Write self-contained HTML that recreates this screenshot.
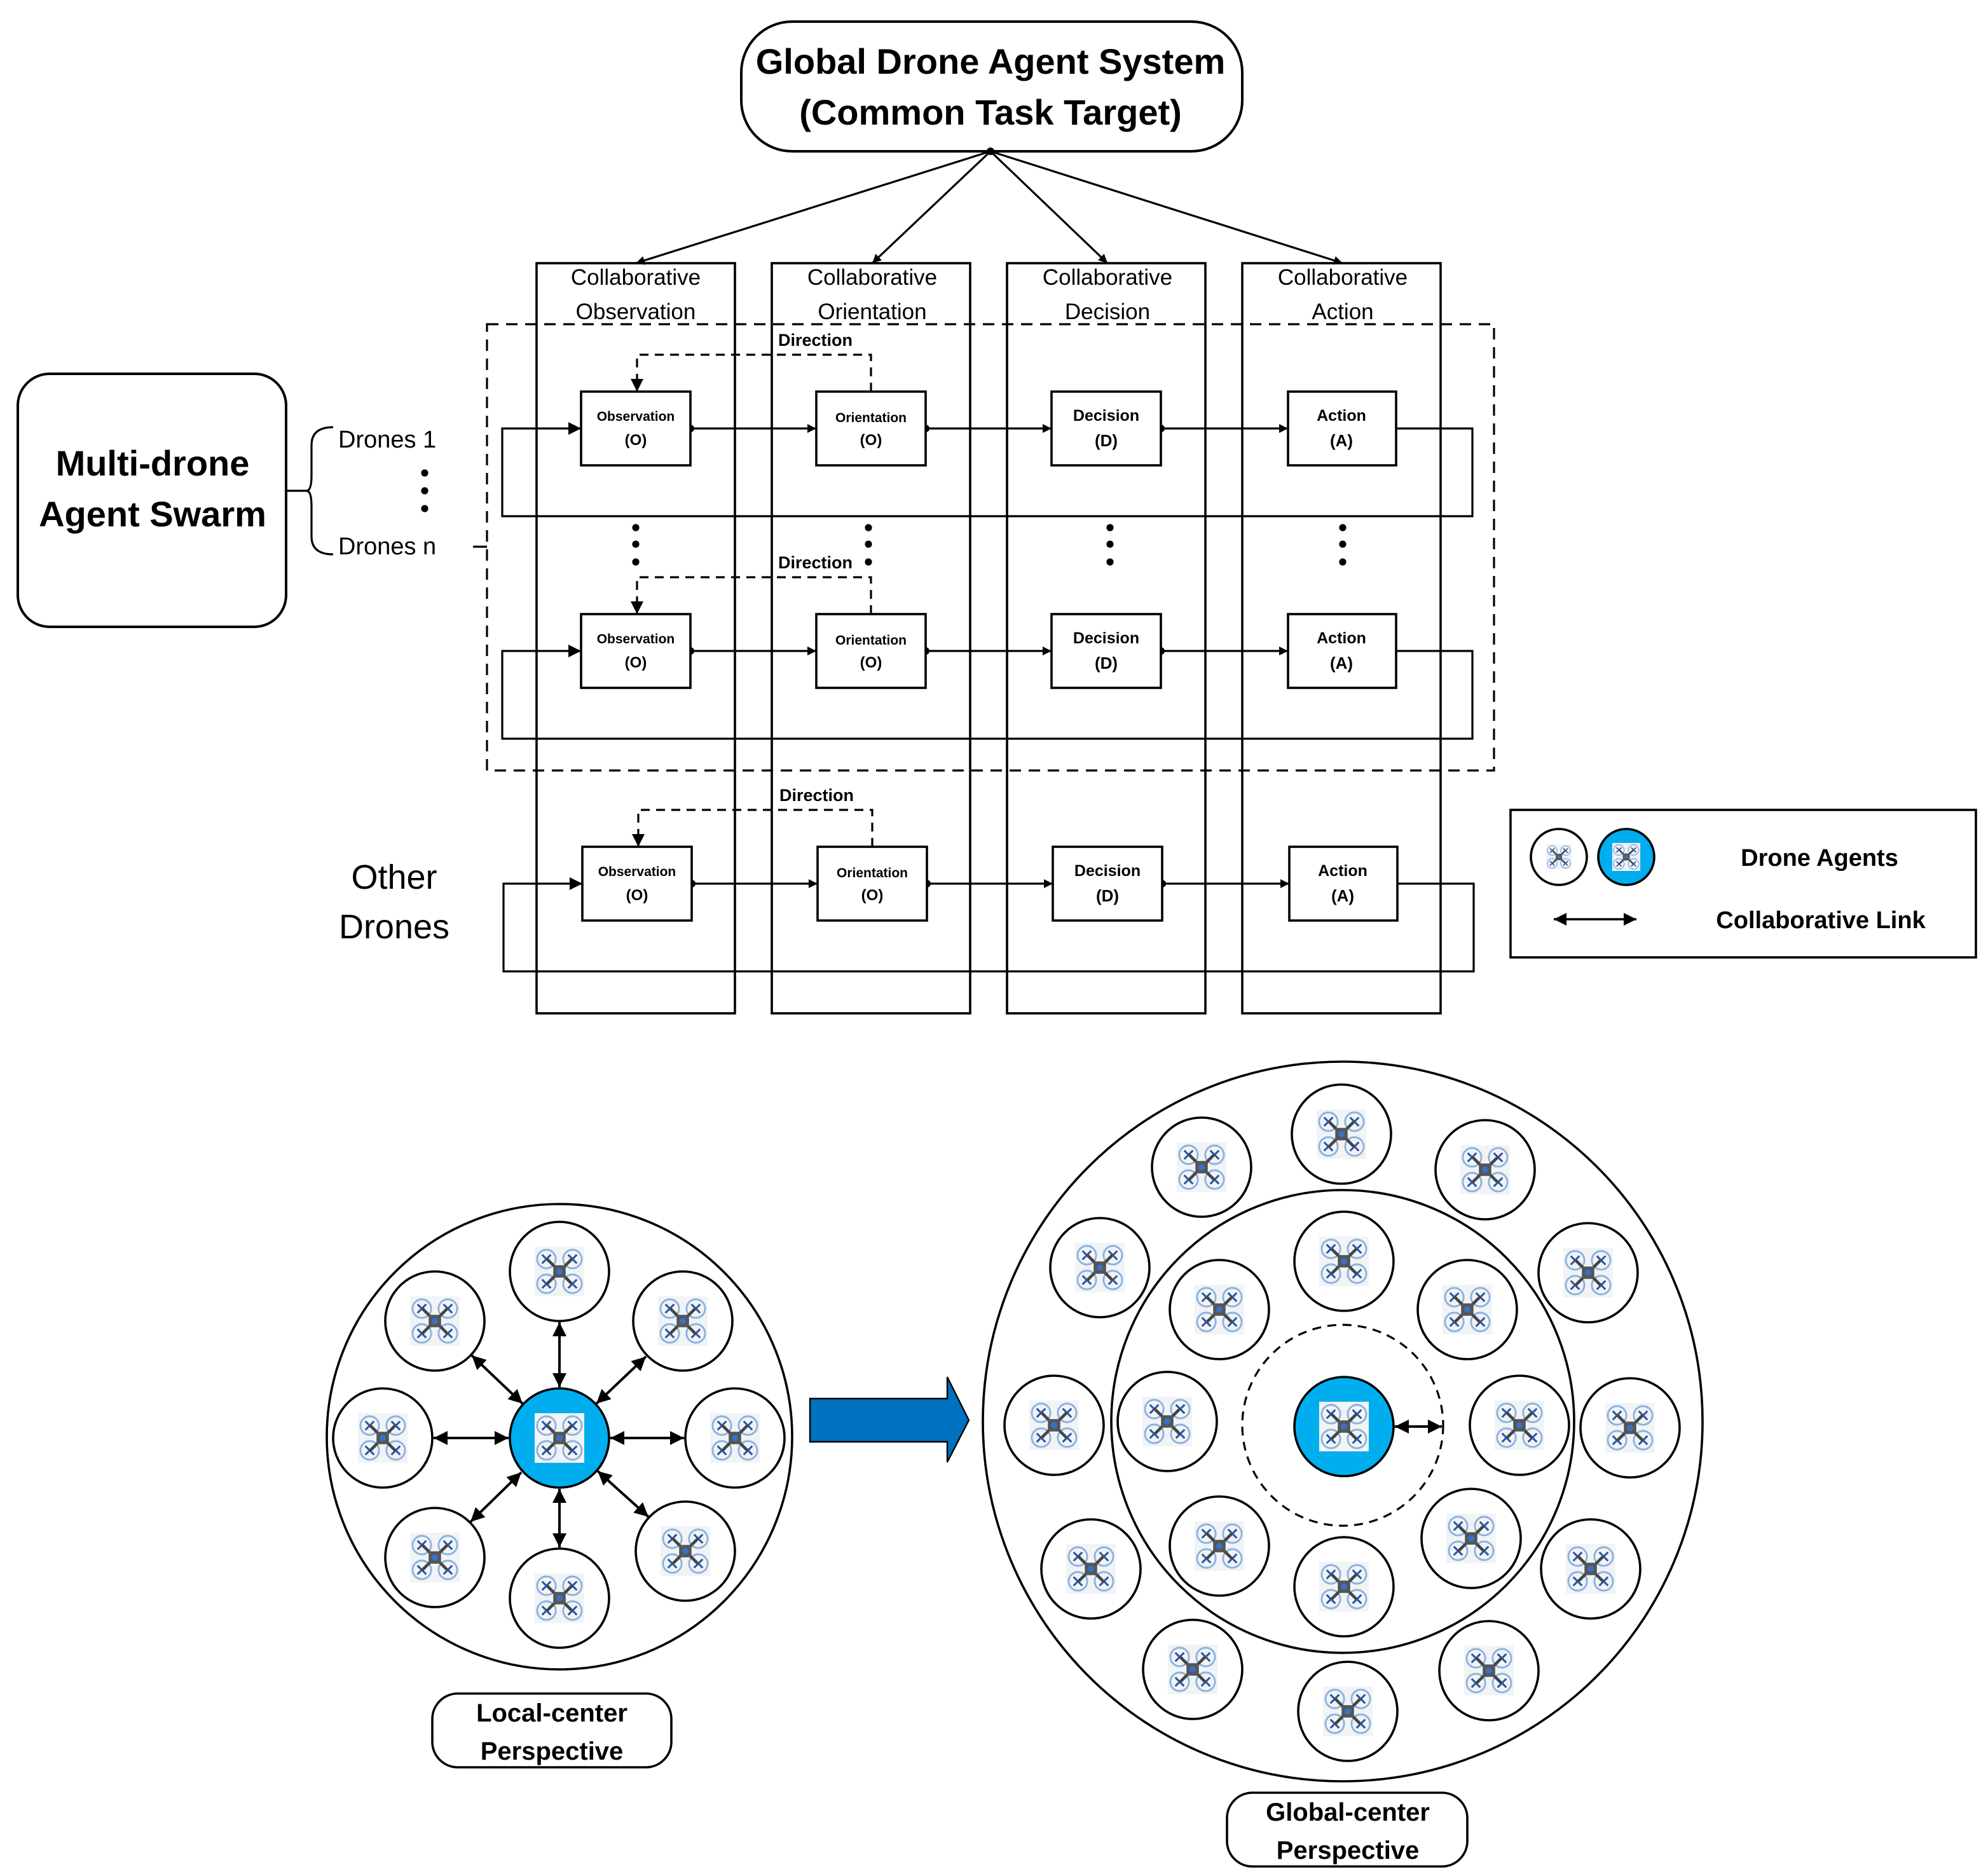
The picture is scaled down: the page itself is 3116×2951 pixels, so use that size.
<!DOCTYPE html>
<html><head><meta charset="utf-8"><style>
html,body{margin:0;padding:0;background:#fff;}
svg{display:block;}
text{font-family:"Liberation Sans",sans-serif;fill:#000;}
</style></head><body>
<svg width="3116" height="2951" viewBox="0 0 1558 1475.5" xmlns="http://www.w3.org/2000/svg">
<defs>
<marker id="ah" viewBox="0 0 10 10" refX="10" refY="5" markerUnits="userSpaceOnUse" markerWidth="10" markerHeight="10" orient="auto-start-reverse"><path d="M0,0 L10,5 L0,10 z" fill="#000"/></marker>
<marker id="ahs" viewBox="0 0 10 10" refX="10" refY="5" markerUnits="userSpaceOnUse" markerWidth="8" markerHeight="7" orient="auto-start-reverse"><path d="M0,0 L10,5 L0,10 z" fill="#000"/></marker>
<marker id="ahb" viewBox="0 0 10 10" refX="10" refY="5" markerUnits="userSpaceOnUse" markerWidth="13" markerHeight="11" orient="auto-start-reverse"><path d="M0,0 L10,5 L0,10 z" fill="#000"/></marker>
<symbol id="dr" viewBox="0 0 40 40">
<rect x="0" y="0" width="40" height="40" fill="#f2f3f5"/>
<g stroke="#8ab4e0" stroke-width="1.5" fill="none">
<circle cx="9.5" cy="10" r="7.5"/><circle cx="30.5" cy="10" r="7.5"/><circle cx="9.5" cy="30" r="7.5"/><circle cx="30.5" cy="30" r="7.5"/></g>
<g stroke="#2a55a0" stroke-width="1.6">
<path d="M6,6.5 L13,13.5 M13,6.5 L6,13.5 M27,6.5 L34,13.5 M34,6.5 L27,13.5 M6,26.5 L13,33.5 M13,26.5 L6,33.5 M27,26.5 L34,33.5 M34,26.5 L27,33.5"/></g>
<path d="M10,10 L30,30 M30,10 L10,30" stroke="#444" stroke-width="2.4"/>
<rect x="15" y="15" width="10" height="10" fill="#555"/>
<circle cx="20" cy="20" r="2.6" fill="#3b6fc0"/>
</symbol>
</defs>

<!-- top box -->
<rect x="583" y="17" width="394" height="102" rx="40" fill="#fff" stroke="#000" stroke-width="2"/>
<text x="779" y="58" font-size="28" font-weight="bold" text-anchor="middle">Global Drone Agent System</text>
<text x="779" y="98" font-size="28" font-weight="bold" text-anchor="middle">(Common Task Target)</text>
<circle cx="779" cy="119" r="3" fill="#000"/>
<g stroke="#000" stroke-width="1.6" marker-end="url(#ahs)">
<line x1="779" y1="119" x2="500" y2="207"/>
<line x1="779" y1="119" x2="686" y2="207"/>
<line x1="779" y1="119" x2="871" y2="207"/>
<line x1="779" y1="119" x2="1056" y2="207"/>
</g>

<!-- columns -->
<g fill="none" stroke="#000" stroke-width="1.8">
<rect x="422" y="207" width="156" height="590"/>
<rect x="607" y="207" width="156" height="590"/>
<rect x="792" y="207" width="156" height="590"/>
<rect x="977" y="207" width="156" height="590"/>
</g>
<g font-size="17.5" text-anchor="middle">
<text x="500" y="224">Collaborative</text><text x="500" y="251">Observation</text>
<text x="686" y="224">Collaborative</text><text x="686" y="251">Orientation</text>
<text x="871" y="224">Collaborative</text><text x="871" y="251">Decision</text>
<text x="1056" y="224">Collaborative</text><text x="1056" y="251">Action</text>
</g>

<rect x="383" y="255" width="792" height="351" fill="none" stroke="#000" stroke-width="1.6" stroke-dasharray="9,6"/>

<!-- rows -->
<g id="row1">
<path d="M1098,337 H1158 V406 H395 V337 H457" fill="none" stroke="#000" stroke-width="1.6" marker-end="url(#ah)"/>
<g stroke="#000" stroke-width="1.6" marker-end="url(#ahs)">
<line x1="543" y1="337" x2="642" y2="337"/><line x1="728" y1="337" x2="827" y2="337"/><line x1="913" y1="337" x2="1013" y2="337"/></g>
<g fill="#000"><circle cx="543" cy="337" r="3"/><circle cx="728" cy="337" r="3"/><circle cx="913" cy="337" r="3"/></g>
<path d="M685,308 V279 H501 V308" fill="none" stroke="#000" stroke-width="1.6" stroke-dasharray="7,5" marker-end="url(#ah)"/>
<g fill="#fff" stroke="#000" stroke-width="1.8">
<rect x="457" y="308" width="86" height="58"/><rect x="642" y="308" width="86" height="58"/><rect x="827" y="308" width="86" height="58"/><rect x="1013" y="308" width="85" height="58"/></g>
<text x="612" y="272" font-size="13.5" font-weight="bold">Direction</text>
<g font-weight="bold" text-anchor="middle">
<text x="500" y="331" font-size="10.5">Observation</text><text x="500" y="350" font-size="12">(O)</text>
<text x="685" y="332" font-size="10.5">Orientation</text><text x="685" y="350" font-size="12">(O)</text>
<text x="870" y="331" font-size="12.5">Decision</text><text x="870" y="351" font-size="13">(D)</text>
<text x="1055" y="331" font-size="12.5">Action</text><text x="1055" y="351" font-size="13">(A)</text>
</g>
</g>
<use href="#row1" transform="translate(0,175)"/>
<use href="#row1" transform="translate(1,358)"/>

<!-- dots -->
<g fill="#000">
<circle cx="500" cy="415" r="2.8"/><circle cx="500" cy="428" r="2.8"/><circle cx="500" cy="442" r="2.8"/>
<circle cx="683" cy="415" r="2.8"/><circle cx="683" cy="428" r="2.8"/><circle cx="683" cy="442" r="2.8"/>
<circle cx="873" cy="415" r="2.8"/><circle cx="873" cy="428" r="2.8"/><circle cx="873" cy="442" r="2.8"/>
<circle cx="1056" cy="415" r="2.8"/><circle cx="1056" cy="428" r="2.8"/><circle cx="1056" cy="442" r="2.8"/>
<circle cx="334" cy="372" r="2.8"/><circle cx="334" cy="386" r="2.8"/><circle cx="334" cy="400" r="2.8"/>
</g>

<!-- left -->
<rect x="14" y="294" width="211" height="199" rx="25" fill="#fff" stroke="#000" stroke-width="2"/>
<text x="120" y="374" font-size="28" font-weight="bold" text-anchor="middle">Multi-drone</text>
<text x="120" y="414" font-size="28" font-weight="bold" text-anchor="middle">Agent Swarm</text>
<path d="M225,386 H243 M262,336 Q245,336 245,350 V374 Q245,386 241,386 Q245,386 245,398 V422 Q245,436 262,436" fill="none" stroke="#000" stroke-width="1.6"/>
<text x="266" y="352" font-size="19">Drones 1</text>
<text x="266" y="436" font-size="19">Drones n</text>
<line x1="372" y1="430" x2="383" y2="430" stroke="#000" stroke-width="1.6"/>
<text x="310" y="699" font-size="27" text-anchor="middle">Other</text>
<text x="310" y="738" font-size="27" text-anchor="middle">Drones</text>

<!-- legend -->
<rect x="1188" y="637" width="366" height="116" fill="#fff" stroke="#000" stroke-width="1.8"/>
<circle cx="1226" cy="674" r="22" fill="#fff" stroke="#000" stroke-width="1.8"/>
<use href="#dr" x="1216" y="664" width="20" height="20"/>
<circle cx="1279" cy="674" r="22" fill="#00aeef" stroke="#000" stroke-width="1.8"/>
<use href="#dr" x="1268" y="663" width="22" height="22"/>
<text x="1431" y="681" font-size="19" font-weight="bold" text-anchor="middle">Drone Agents</text>
<line x1="1222" y1="723" x2="1287" y2="723" stroke="#000" stroke-width="1.8" marker-start="url(#ah)" marker-end="url(#ah)"/>
<text x="1432" y="730" font-size="19" font-weight="bold" text-anchor="middle">Collaborative Link</text>

<!-- bottom left -->
<circle cx="440" cy="1130" r="183" fill="#fff" stroke="#000" stroke-width="1.8"/>
<g fill="#fff" stroke="#000" stroke-width="1.8">
<circle cx="440" cy="1000" r="39"/><circle cx="537" cy="1039" r="39"/><circle cx="578" cy="1131" r="39"/><circle cx="539" cy="1220" r="39"/>
<circle cx="440" cy="1257" r="39"/><circle cx="342" cy="1225" r="39"/><circle cx="301" cy="1131" r="39"/><circle cx="342" cy="1039" r="39"/>
</g>
<circle cx="440" cy="1131" r="39" fill="#00aeef" stroke="#000" stroke-width="1.8"/>
<g stroke="#000" stroke-width="2" marker-start="url(#ahb)" marker-end="url(#ahb)">
<line x1="440" y1="1091" x2="440" y2="1040"/>
<line x1="469" y1="1104" x2="508" y2="1067"/>
<line x1="480" y1="1131" x2="538" y2="1131"/>
<line x1="470" y1="1157" x2="510" y2="1193"/>
<line x1="440" y1="1171" x2="440" y2="1217"/>
<line x1="410" y1="1158" x2="370" y2="1197"/>
<line x1="400" y1="1131" x2="341" y2="1131"/>
<line x1="411" y1="1104" x2="371" y2="1066"/>
</g>
<g>
<use href="#dr" x="420.5" y="980.5" width="39" height="39"/><use href="#dr" x="517.5" y="1019.5" width="39" height="39"/>
<use href="#dr" x="558.5" y="1111.5" width="39" height="39"/><use href="#dr" x="519.5" y="1200.5" width="39" height="39"/>
<use href="#dr" x="420.5" y="1237.5" width="39" height="39"/><use href="#dr" x="322.5" y="1205.5" width="39" height="39"/>
<use href="#dr" x="281.5" y="1111.5" width="39" height="39"/><use href="#dr" x="322.5" y="1019.5" width="39" height="39"/>
<use href="#dr" x="420.5" y="1111.5" width="39" height="39"/>
</g>
<rect x="340" y="1332" width="188" height="58" rx="20" fill="#fff" stroke="#000" stroke-width="1.8"/>
<text x="434" y="1354" font-size="20" font-weight="bold" text-anchor="middle">Local-center</text>
<text x="434" y="1384" font-size="20" font-weight="bold" text-anchor="middle">Perspective</text>

<!-- block arrow -->
<path d="M637,1100 H745 V1083 L762,1117 L745,1150 V1134 H637 Z" fill="#0070c0" stroke="#000" stroke-width="1.2"/>

<!-- bottom right -->
<circle cx="1056" cy="1118" r="283" fill="#fff" stroke="#000" stroke-width="1.8"/>
<circle cx="1056" cy="1118" r="182" fill="#fff" stroke="#000" stroke-width="1.8"/>
<circle cx="1056" cy="1121" r="79" fill="none" stroke="#000" stroke-width="1.6" stroke-dasharray="7,5"/>
<circle cx="1057" cy="1122" r="39" fill="#00aeef" stroke="#000" stroke-width="1.8"/>
<use href="#dr" x="1037.5" y="1102.5" width="39" height="39"/>
<line x1="1097" y1="1122" x2="1134" y2="1122" stroke="#000" stroke-width="2" marker-start="url(#ahb)" marker-end="url(#ahb)"/>
<g fill="#fff" stroke="#000" stroke-width="1.8">
<circle cx="1057" cy="992" r="39"/><circle cx="1154" cy="1030" r="39"/><circle cx="1195" cy="1121" r="39"/><circle cx="1157" cy="1210" r="39"/>
<circle cx="1057" cy="1248" r="39"/><circle cx="959" cy="1216" r="39"/><circle cx="918" cy="1118" r="39"/><circle cx="959" cy="1030" r="39"/>
<circle cx="1055" cy="892" r="39"/><circle cx="1168" cy="920" r="39"/><circle cx="1249" cy="1001" r="39"/><circle cx="1282" cy="1123" r="39"/>
<circle cx="1251" cy="1234" r="39"/><circle cx="1171" cy="1314" r="39"/><circle cx="1060" cy="1346" r="39"/><circle cx="938" cy="1313" r="39"/>
<circle cx="858" cy="1234" r="39"/><circle cx="829" cy="1121" r="39"/><circle cx="865" cy="997" r="39"/><circle cx="945" cy="918" r="39"/>
</g>
<g>
<use href="#dr" x="1037.5" y="972.5" width="39" height="39"/><use href="#dr" x="1134.5" y="1010.5" width="39" height="39"/>
<use href="#dr" x="1175.5" y="1101.5" width="39" height="39"/><use href="#dr" x="1137.5" y="1190.5" width="39" height="39"/>
<use href="#dr" x="1037.5" y="1228.5" width="39" height="39"/><use href="#dr" x="939.5" y="1196.5" width="39" height="39"/>
<use href="#dr" x="898.5" y="1098.5" width="39" height="39"/><use href="#dr" x="939.5" y="1010.5" width="39" height="39"/>
<use href="#dr" x="1035.5" y="872.5" width="39" height="39"/><use href="#dr" x="1148.5" y="900.5" width="39" height="39"/>
<use href="#dr" x="1229.5" y="981.5" width="39" height="39"/><use href="#dr" x="1262.5" y="1103.5" width="39" height="39"/>
<use href="#dr" x="1231.5" y="1214.5" width="39" height="39"/><use href="#dr" x="1151.5" y="1294.5" width="39" height="39"/>
<use href="#dr" x="1040.5" y="1326.5" width="39" height="39"/><use href="#dr" x="918.5" y="1293.5" width="39" height="39"/>
<use href="#dr" x="838.5" y="1214.5" width="39" height="39"/><use href="#dr" x="809.5" y="1101.5" width="39" height="39"/>
<use href="#dr" x="845.5" y="977.5" width="39" height="39"/><use href="#dr" x="925.5" y="898.5" width="39" height="39"/>
</g>
<rect x="965" y="1410" width="189" height="58" rx="20" fill="#fff" stroke="#000" stroke-width="1.8"/>
<text x="1060" y="1432" font-size="20" font-weight="bold" text-anchor="middle">Global-center</text>
<text x="1060" y="1462" font-size="20" font-weight="bold" text-anchor="middle">Perspective</text>
</svg>
</body></html>
